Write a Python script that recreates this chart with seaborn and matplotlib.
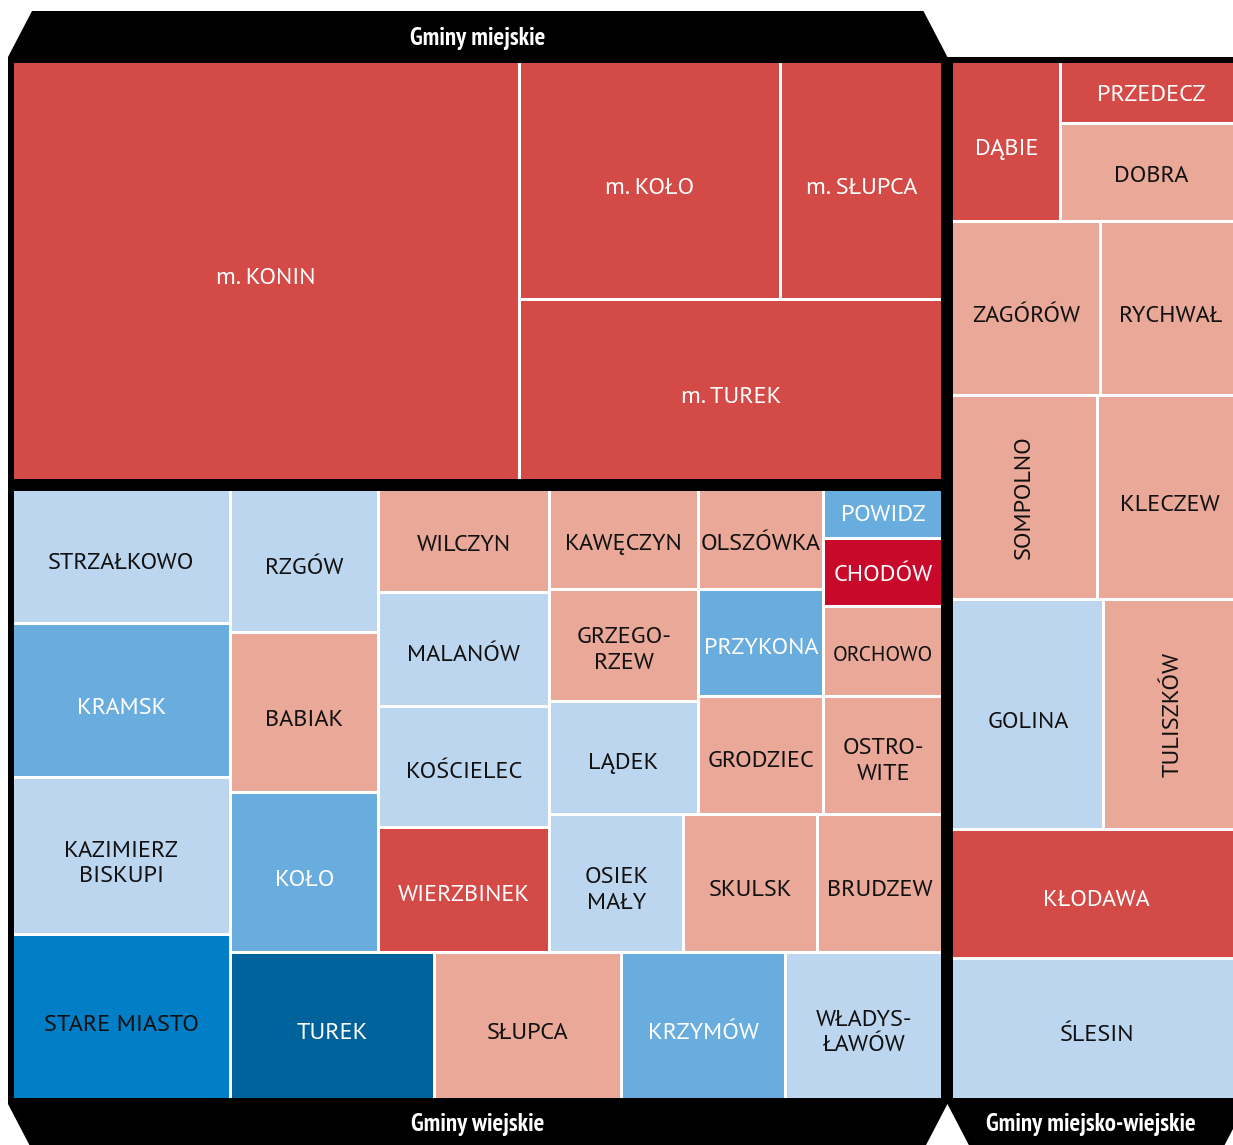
import matplotlib
matplotlib.use("Agg")
import matplotlib.pyplot as plt
from matplotlib.patches import Rectangle, Polygon
import seaborn as sns

# ---------------- data ----------------
group_keys = ["miejskie", "wiejskie", "miejsko-wiejskie"]
group_titles = ["Gminy miejskie", "Gminy wiejskie", "Gminy miejsko-wiejskie"]

miejskie_names = ["m. KONIN", "m. KOŁO", "m. SŁUPCA", "m. TUREK"]
miejskie_values = [70.0, 20.6, 12.7, 25.2]
miejskie_shades = ["R2", "R2", "R2", "R2"]

wiejskie_names = ["STRZAŁKOWO", "KRAMSK", "KAZIMIERZ BISKUPI", "STARE MIASTO",
                  "RZGÓW", "BABIAK", "KOŁO",
                  "WILCZYN", "MALANÓW", "KOŚCIELEC", "WIERZBINEK",
                  "KAWĘCZYN", "GRZEGORZEW", "LĄDEK",
                  "OLSZÓWKA", "PRZYKONA", "GRODZIEC",
                  "POWIDZ", "CHODÓW", "ORCHOWO", "OSTROWITE",
                  "OSIEK MAŁY", "SKULSK", "BRUDZEW",
                  "TUREK", "SŁUPCA", "KRZYMÓW", "WŁADYSŁAWÓW"]
wiejskie_values = [9.6, 11.0, 11.2, 11.8,
                   7.0, 7.8, 7.8,
                   5.8, 6.5, 6.8, 7.1,
                   5.0, 5.6, 5.7,
                   4.2, 4.5, 5.0,
                   1.9, 2.7, 3.6, 4.8,
                   6.1, 6.1, 5.7,
                   9.9, 9.0, 7.9, 7.6]
wiejskie_shades = ["B1", "B2", "B1", "B3",
                   "B1", "R1", "B2",
                   "R1", "B1", "B1", "R2",
                   "R1", "R1", "B1",
                   "R1", "B2", "R1",
                   "B2", "R3", "R1", "R1",
                   "B1", "R1", "R1",
                   "B4", "R1", "B2", "B1"]

mw_names = ["DĄBIE", "PRZEDECZ", "DOBRA", "ZAGÓRÓW", "RYCHWAŁ", "SOMPOLNO",
            "KLECZEW", "GOLINA", "TULISZKÓW", "KŁODAWA", "ŚLESIN"]
mw_values = [5.6, 3.6, 5.8, 8.4, 8.0, 9.7, 9.6, 11.4, 10.3, 12.1, 13.2]
mw_shades = ["R2", "R2", "R1", "R1", "R1", "R1", "R1", "B1", "R1", "R2", "B1"]

# hyphenated / wrapped label texts
label_breaks = {"KAZIMIERZ BISKUPI": "KAZIMIERZ\nBISKUPI",
                "GRZEGORZEW": "GRZEGO-\nRZEW",
                "OSTROWITE": "OSTRO-\nWITE",
                "OSIEK MAŁY": "OSIEK\nMAŁY",
                "WŁADYSŁAWÓW": "WŁADYS-\nŁAWÓW"}
rotated_labels = ["SOMPOLNO", "TULISZKÓW"]
small_labels = ["ORCHOWO"]

# treemap nesting (h = side by side, v = stacked)
tree_miejskie = ("h", ["m. KONIN", ("v", [("h", ["m. KOŁO", "m. SŁUPCA"]), "m. TUREK"])])
tree_wiejskie = ("h", [
    ("v", ["STRZAŁKOWO", "KRAMSK", "KAZIMIERZ BISKUPI", "STARE MIASTO"]),
    ("v", [
        ("h", [
            ("v", ["RZGÓW", "BABIAK", "KOŁO"]),
            ("v", ["WILCZYN", "MALANÓW", "KOŚCIELEC", "WIERZBINEK"]),
            ("v", [
                ("h", [
                    ("v", ["KAWĘCZYN", "GRZEGORZEW", "LĄDEK"]),
                    ("v", ["OLSZÓWKA", "PRZYKONA", "GRODZIEC"]),
                    ("v", ["POWIDZ", "CHODÓW", "ORCHOWO", "OSTROWITE"]),
                ]),
                ("h", ["OSIEK MAŁY", "SKULSK", "BRUDZEW"]),
            ]),
        ]),
        ("h", ["TUREK", "SŁUPCA", "KRZYMÓW", "WŁADYSŁAWÓW"]),
    ]),
])
tree_mw = ("v", [
    ("h", ["DĄBIE", ("v", ["PRZEDECZ", "DOBRA"])]),
    ("h", ["ZAGÓRÓW", "RYCHWAŁ"]),
    ("h", ["SOMPOLNO", "KLECZEW"]),
    ("h", ["GOLINA", "TULISZKÓW"]),
    "KŁODAWA",
    "ŚLESIN",
])
tree_root = ("h", [("v", ["miejskie", "wiejskie"]), "miejsko-wiejskie"])

# ---------------- style ----------------
sns.set_theme(style="white")
FONT = ["PT Sans", "DejaVu Sans"]
HFONT = ["PT Sans Narrow", "PT Sans", "DejaVu Sans"]
plt.rcParams["font.family"] = FONT

shade_keys = ["R1", "R2", "R3", "B1", "B2", "B3", "B4"]
shade_pal = dict(zip(shade_keys, sns.color_palette(
    ["#E9A898", "#D44A47", "#C8092A", "#BDD6EF", "#69ACDE", "#007EC6", "#00629A"])))
text_col = {"R1": "#111111", "R2": "white", "R3": "white", "B1": "#111111",
            "B2": "white", "B3": "#111111", "B4": "white"}

# ---------------- layout ----------------
values = {}
shades = {}
for names, vals, sh in [(miejskie_names, miejskie_values, miejskie_shades),
                        (wiejskie_names, wiejskie_values, wiejskie_shades),
                        (mw_names, mw_values, mw_shades)]:
    values.update(dict(zip(names, vals)))
    shades.update(dict(zip(names, sh)))
values["miejskie"] = sum(miejskie_values)
values["wiejskie"] = sum(wiejskie_values)
values["miejsko-wiejskie"] = sum(mw_values)


def total(node):
    if isinstance(node, str):
        return values[node]
    return sum(total(k) for k in node[1])


def layout(node, x, y, w, h, gap, out):
    if isinstance(node, str):
        out[node] = (x, y, w, h)
        return
    orient, kids = node
    sums = [total(k) for k in kids]
    S = sum(sums)
    n = len(kids)
    if orient == "h":
        avail = w - gap * (n - 1)
        cx = x
        for k, s in zip(kids, sums):
            cw = avail * s / S
            layout(k, cx, y, cw, h, gap, out)
            cx += cw + gap
    else:
        avail = h - gap * (n - 1)
        cy = y
        for k, s in zip(kids, sums):
            ch = avail * s / S
            layout(k, x, cy, w, ch, gap, out)
            cy += ch + gap


W, H = 1233, 1145
fig = plt.figure(figsize=(W / 100, H / 100), dpi=100)
ax = fig.add_axes([0, 0, 1, 1])
ax.set_xlim(0, W)
ax.set_ylim(H, 0)
ax.axis("off")

ROOT = (14, 63, 1240 - 14, 1098 - 63)
PAD = 6
HEAD = 46
SLANT = 24

groups = {}
layout(tree_root, *ROOT, 12, groups)

# black frame
ax.add_patch(Rectangle((ROOT[0] - PAD, ROOT[1] - PAD), ROOT[2] + 2 * PAD,
                       ROOT[3] + 2 * PAD, facecolor="black", edgecolor="none", zorder=1))

cells = {}
for key, tree in zip(group_keys, [tree_miejskie, tree_wiejskie, tree_mw]):
    gx, gy, gw, gh = groups[key]
    ax.add_patch(Rectangle((gx, gy), gw, gh, facecolor="white", edgecolor="none", zorder=2))
    layout(tree, gx, gy, gw, gh, 3, cells)

for name, (x, y, w, h) in cells.items():
    sh = shades[name]
    ax.add_patch(Rectangle((x, y), w, h, facecolor=shade_pal[sh], edgecolor="none", zorder=3))
    lab = label_breaks.get(name, name)
    rot = 90 if name in rotated_labels else 0
    fs = 15.5 if name in small_labels else 17.5
    dy = 0 if rot else min(8, 0.05 * h)
    ax.text(x + w / 2, y + h / 2 + dy, lab, ha="center", va="center", color=text_col[sh],
            fontsize=fs, rotation=rot, linespacing=1.3, zorder=4, family=FONT)

# headers
for key, title in zip(group_keys, group_titles):
    gx, gy, gw, gh = groups[key]
    x0, x1 = gx - PAD, gx + gw + PAD
    if key == "miejskie":
        yb = gy - PAD
        yt = yb - HEAD
        poly = [(x0, yb), (x0 + SLANT, yt), (x1 - SLANT, yt), (x1, yb)]
        ty = (yb + yt) / 2 + 4
    else:
        yt = gy + gh + PAD
        yb = yt + HEAD
        poly = [(x0, yt), (x1, yt), (x1 - SLANT, yb), (x0 + SLANT, yb)]
        ty = (yb + yt) / 2 - 2
    ax.add_patch(Polygon(poly, closed=True, facecolor="black", edgecolor="none", zorder=1))
    ax.text(gx + gw / 2 - 6 * (key == "miejsko-wiejskie"), ty, title, ha="center",
            va="center", color="white", fontsize=18, fontweight="bold", zorder=5, family=HFONT)

fig.savefig("out.png", dpi=100, facecolor="white")
